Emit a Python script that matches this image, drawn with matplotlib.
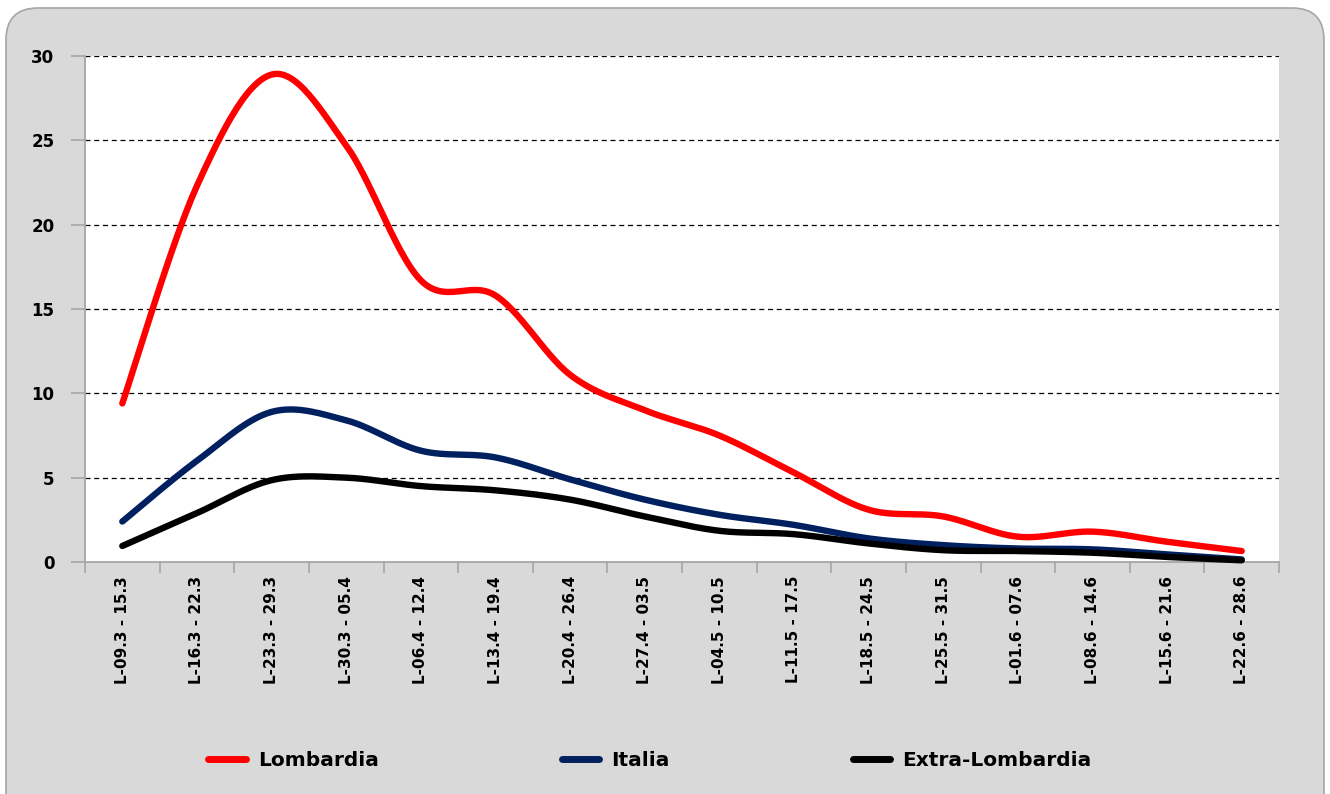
import numpy as np
import matplotlib
matplotlib.use("Agg")
import matplotlib.pyplot as plt
from matplotlib.patches import FancyBboxPatch
from matplotlib.lines import Line2D

categories = ["L-09.3 - 15.3", "L-16.3 - 22.3", "L-23.3 - 29.3", "L-30.3 - 05.4",
              "L-06.4 - 12.4", "L-13.4 - 19.4", "L-20.4 - 26.4", "L-27.4 - 03.5",
              "L-04.5 - 10.5", "L-11.5 - 17.5", "L-18.5 - 24.5", "L-25.5 - 31.5",
              "L-01.6 - 07.6", "L-08.6 - 14.6", "L-15.6 - 21.6", "L-22.6 - 28.6"]
lombardia = [9.4, 22.3, 28.9, 24.7, 16.7, 15.8, 11.1, 9.0, 7.5, 5.3, 3.1, 2.7, 1.5, 1.8, 1.2, 0.65]
italia = [2.4, 6.0, 8.9, 8.4, 6.6, 6.2, 4.9, 3.7, 2.8, 2.2, 1.4, 1.0, 0.8, 0.75, 0.45, 0.15]
extra = [0.95, 2.9, 4.85, 5.0, 4.5, 4.25, 3.7, 2.7, 1.85, 1.65, 1.1, 0.7, 0.65, 0.55, 0.3, 0.1]
yticks = [0, 5, 10, 15, 20, 25, 30]


def smooth(y, n=30):
    """Excel-like smoothed line: cubic Bezier (Catmull-Rom, tension 1/6)."""
    y = np.asarray(y, float)
    x = np.arange(len(y), dtype=float)
    px = np.concatenate([[x[0]], x, [x[-1]]])
    py = np.concatenate([[y[0]], y, [y[-1]]])
    xs, ys = [], []
    t = np.linspace(0, 1, n, endpoint=False)
    for i in range(len(y) - 1):
        p0 = np.array([px[i + 1], py[i + 1]])
        p3 = np.array([px[i + 2], py[i + 2]])
        c1 = p0 + (np.array([px[i + 2], py[i + 2]]) - np.array([px[i], py[i]])) / 6
        c2 = p3 - (np.array([px[i + 3], py[i + 3]]) - np.array([px[i + 1], py[i + 1]])) / 6
        b = ((1 - t) ** 3)[:, None] * p0 + (3 * (1 - t) ** 2 * t)[:, None] * c1 + \
            (3 * (1 - t) * t ** 2)[:, None] * c2 + (t ** 3)[:, None] * p3
        xs.append(b[:, 0]); ys.append(b[:, 1])
    xs.append([x[-1]]); ys.append([y[-1]])
    return np.concatenate(xs), np.concatenate(ys)


plt.rcParams['font.family'] = ['DejaVu Sans']
fig = plt.figure(figsize=(13.3, 7.94), dpi=100)
fig.patch.set_facecolor('white')

W, H = 1330, 794
bg = FancyBboxPatch((6 / W, -0.05), 1318 / W, (794 - 8) / H + 0.05,
                    boxstyle="round,pad=0,rounding_size=0.024",
                    transform=fig.transFigure, facecolor='#d9d9d9',
                    edgecolor='#a6a6a6', linewidth=1.2, zorder=-5,
                    mutation_aspect=W / H)
fig.patches.append(bg)

ax = fig.add_axes([85 / W, 1 - 562 / H, (1279 - 85) / W, (562 - 56) / H])
ax.set_zorder(2)
ax.set_facecolor('white')
x = np.arange(len(categories))
colors = ['#ff0000', '#002060', '#000000']
names = ['Lombardia', 'Italia', 'Extra-Lombardia']
for data, c in zip([lombardia, italia, extra], colors):
    sx, sy = smooth(data)
    ax.plot(sx, sy, color=c, lw=4.6, solid_capstyle='round', zorder=3, clip_on=False)

ax.set_xlim(-0.5, len(categories) - 0.5)
ax.set_ylim(0, 30)
ax.set_yticks(yticks)
ax.set_yticklabels([str(v) for v in yticks], fontsize=12, fontweight='bold')
ax.set_xticks(x)
ax.set_xticklabels(categories, rotation=90, fontsize=11, fontweight='bold')
ax.tick_params(axis='x', length=0, pad=10)
ax.set_xticks(np.arange(-0.5, len(categories) + 0.5, 1), minor=True)
ax.tick_params(axis='x', which='minor', length=8, color='#a6a6a6', width=1.2, direction='out')
ax.tick_params(axis='y', length=10, color='#a6a6a6', width=1.2, pad=12)
for v in yticks[1:]:
    ax.axhline(v, color='black', lw=0.9, ls=(0, (4, 3)), zorder=1)
for s in ['top', 'right']:
    ax.spines[s].set_visible(False)
for s in ['left', 'bottom']:
    ax.spines[s].set_color('#a6a6a6')
    ax.spines[s].set_linewidth(1.3)

handles = [Line2D([0], [0], color=c, lw=5, solid_capstyle='round') for c in colors]
fig.legend(handles, names, loc='center', bbox_to_anchor=(650 / W, 1 - 761 / H), ncol=3,
           frameon=False, prop={'weight': 'bold', 'size': 14.5}, handlelength=1.85,
           handletextpad=0.6, columnspacing=9.1)

fig.savefig('out.png', dpi=100, facecolor='white')
